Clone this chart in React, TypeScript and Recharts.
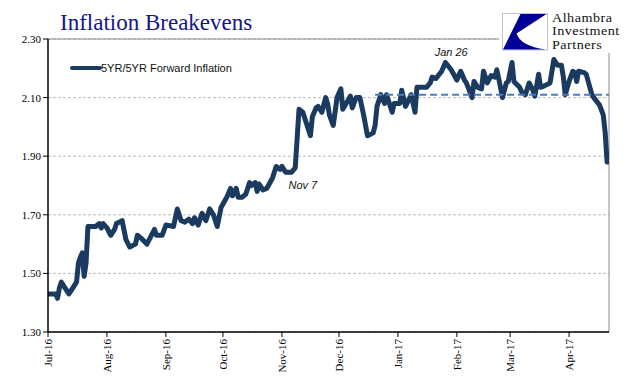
import React from 'react';
import { LineChart, Line, XAxis, YAxis, CartesianGrid, ReferenceLine, ReferenceDot } from 'recharts';

const seriesName = '5YR/5YR Forward Inflation';

const dates = [
  '2016-07-01','2016-07-05','2016-07-06','2016-07-07','2016-07-08','2016-07-10','2016-07-12','2016-07-14','2016-07-16','2016-07-17',
  '2016-07-18','2016-07-19','2016-07-20','2016-07-21','2016-07-22','2016-07-26','2016-07-28','2016-07-29','2016-07-30','2016-08-01',
  '2016-08-03','2016-08-05','2016-08-06','2016-08-09','2016-08-11','2016-08-13','2016-08-16','2016-08-17','2016-08-19','2016-08-22',
  '2016-08-26','2016-08-27','2016-08-30','2016-09-01','2016-09-05','2016-09-07','2016-09-09','2016-09-11','2016-09-13','2016-09-15',
  '2016-09-16','2016-09-18','2016-09-20','2016-09-22','2016-09-24','2016-09-26','2016-09-28','2016-09-30','2016-10-03','2016-10-05',
  '2016-10-06','2016-10-08','2016-10-09','2016-10-11','2016-10-13','2016-10-15','2016-10-16','2016-10-18','2016-10-19','2016-10-20',
  '2016-10-22','2016-10-24','2016-10-27','2016-10-28','2016-10-29','2016-10-31','2016-11-01','2016-11-03','2016-11-06','2016-11-08',
  '2016-11-09','2016-11-10','2016-11-12','2016-11-14','2016-11-16','2016-11-17','2016-11-19','2016-11-20','2016-11-22','2016-11-24',
  '2016-11-25','2016-11-26','2016-11-28','2016-11-30','2016-12-02','2016-12-03','2016-12-07','2016-12-08','2016-12-10','2016-12-12',
  '2016-12-14','2016-12-16','2016-12-19','2016-12-20','2016-12-21','2016-12-23','2016-12-25','2016-12-26','2016-12-29','2016-12-30',
  '2017-01-02','2017-01-03','2017-01-05','2017-01-08','2017-01-10','2017-01-11','2017-01-16','2017-01-18','2017-01-19','2017-01-21',
  '2017-01-24','2017-01-26','2017-01-29','2017-02-01','2017-02-03','2017-02-05','2017-02-06','2017-02-09','2017-02-10','2017-02-12',
  '2017-02-14','2017-02-15','2017-02-17','2017-02-19','2017-02-21','2017-02-22','2017-02-23','2017-02-25','2017-02-27','2017-02-28',
  '2017-03-02','2017-03-03','2017-03-06','2017-03-07','2017-03-09','2017-03-11','2017-03-13','2017-03-14','2017-03-16','2017-03-17',
  '2017-03-19','2017-03-22','2017-03-24','2017-03-26','2017-03-28','2017-03-29','2017-03-30','2017-04-01','2017-04-03','2017-04-04',
  '2017-04-05','2017-04-06','2017-04-09','2017-04-10','2017-04-13','2017-04-14','2017-04-17','2017-04-19','2017-04-20','2017-04-21',
];

const values = [
  1.43, 1.43, 1.415, 1.45, 1.47, 1.45, 1.43, 1.45, 1.47, 1.535,
  1.555, 1.57, 1.49, 1.535, 1.66, 1.66, 1.67, 1.655, 1.67, 1.655,
  1.63, 1.65, 1.67, 1.68, 1.615, 1.59, 1.60, 1.63, 1.62, 1.60,
  1.65, 1.63, 1.63, 1.665, 1.66, 1.72, 1.68, 1.675, 1.685, 1.67,
  1.69, 1.665, 1.705, 1.68, 1.72, 1.70, 1.66, 1.725, 1.76, 1.79,
  1.765, 1.79, 1.76, 1.76, 1.77, 1.81, 1.80, 1.81, 1.78, 1.805,
  1.785, 1.79, 1.825, 1.845, 1.865, 1.855, 1.865, 1.845, 1.845, 1.86,
  1.96, 2.06, 2.05, 2.01, 1.97, 2.035, 2.065, 2.07, 2.05, 2.10,
  2.08, 2.04, 2.005, 2.10, 2.13, 2.06, 2.105, 2.065, 2.10, 2.10,
  2.04, 1.97, 1.98, 2.005, 2.07, 2.11, 2.08, 2.11, 2.05, 2.08,
  2.08, 2.125, 2.07, 2.11, 2.05, 2.135, 2.135, 2.15, 2.17, 2.165,
  2.19, 2.22, 2.195, 2.16, 2.19, 2.16, 2.15, 2.10, 2.155, 2.135,
  2.13, 2.19, 2.15, 2.175, 2.17, 2.195, 2.165, 2.10, 2.15, 2.155,
  2.22, 2.155, 2.135, 2.12, 2.11, 2.15, 2.125, 2.105, 2.18, 2.135,
  2.14, 2.15, 2.23, 2.21, 2.21, 2.17, 2.11, 2.155, 2.19, 2.185,
  2.155, 2.19, 2.185, 2.18, 2.11, 2.10, 2.075, 2.04, 1.98, 1.88,
];

const tickDates = ['2016-07-01','2016-08-01','2016-09-01','2016-10-01','2016-11-01','2016-12-01','2017-01-01','2017-02-01','2017-03-01','2017-04-01'];
const tickLabels = ['Jul-16','Aug-16','Sep-16','Oct-16','Nov-16','Dec-16','Jan-17','Feb-17','Mar-17','Apr-17'];
const yTicks = [1.3, 1.5, 1.7, 1.9, 2.1, 2.3];
const axisStart = '2016-07-01';
const axisEnd = '2017-04-22';

const trendLevel = 2.11;
const trendFrom = '2016-12-20';

const annotationLabels = ['Nov 7', 'Jan 26'];
const annotationDates = ['2016-11-12', '2017-01-29'];
const annotationValues = [1.788, 2.242];

const logoLines = ['Alhambra', 'Investment', 'Partners'];

const START = Date.UTC(2016, 6, 1);
const toDay = (s: string) => {
  const [y, m, d] = s.split('-').map(Number);
  return Math.round((Date.UTC(y, m - 1, d) - START) / 86400000);
};

const data = dates.map((d, i) => ({ day: toDay(d), value: values[i] }));
const xTicks = tickDates.map(toDay);
const labelByDay: Record<number, string> = {};
xTicks.forEach((t, i) => { labelByDay[t] = tickLabels[i]; });

const SERIF = "'Liberation Serif', 'Times New Roman', serif";
const SANS = "'Liberation Sans', Arial, sans-serif";
const LINE_COLOR = '#1b3a60';

const XTick = (props: any) => {
  const { x, y, payload } = props;
  return (
    <g transform={`translate(${x},${y})`}>
      <text transform="rotate(-90)" textAnchor="end" dy={4} fontFamily={SERIF} fontSize={11} fill="#000">
        {labelByDay[payload.value]}
      </text>
    </g>
  );
};

const AnnotationText = (label: string) => (props: any) => (
  <text x={props.cx} y={props.cy} textAnchor="middle" fontFamily={SANS} fontStyle="italic" fontSize={11} fill="#111">
    {label}
  </text>
);

export default function App() {
  const endDay = toDay(axisEnd);
  return (
    <div style={{ margin: -8, width: 641, height: 381, position: 'relative', background: '#fff' }}>
      <LineChart width={641} height={381} data={data} margin={{ top: 39, right: 32, left: 0, bottom: 0 }}>
        <CartesianGrid horizontal vertical={false} stroke="#bcbcbc" strokeDasharray="3 2" />
        <ReferenceLine y={2.3} stroke="#8c8c8c" strokeWidth={1} />
        <ReferenceLine x={endDay} stroke="#8c8c8c" strokeWidth={1} />
        <XAxis
          type="number"
          dataKey="day"
          domain={[toDay(axisStart), endDay]}
          ticks={xTicks}
          interval={0}
          height={49}
          tick={<XTick />}
          tickSize={5}
          tickMargin={2}
          axisLine={{ stroke: '#000', strokeWidth: 1.5 }}
          tickLine={{ stroke: '#000', strokeWidth: 1 }}
          allowDataOverflow
        />
        <YAxis
          type="number"
          domain={[1.3, 2.3]}
          ticks={yTicks}
          interval={0}
          width={48}
          tickFormatter={(v: number) => v.toFixed(2)}
          tick={{ fontFamily: SERIF, fontSize: 11, fill: '#000' }}
          tickSize={5}
          tickMargin={2}
          axisLine={{ stroke: '#000', strokeWidth: 1.5 }}
          tickLine={{ stroke: '#000', strokeWidth: 1 }}
        />
        <Line
          type="linear"
          dataKey="value"
          name={seriesName}
          stroke={LINE_COLOR}
          strokeWidth={5}
          strokeLinejoin="round"
          strokeLinecap="round"
          dot={false}
          isAnimationActive={false}
        />
        <ReferenceLine
          segment={[{ x: toDay(trendFrom), y: trendLevel }, { x: endDay, y: trendLevel }]}
          stroke="#4a7ebb"
          strokeWidth={2}
          strokeDasharray="7 4"
        />
        {annotationLabels.map((l, i) => (
          <ReferenceDot
            key={l}
            x={toDay(annotationDates[i])}
            y={annotationValues[i]}
            r={0}
            shape={AnnotationText(l)}
          />
        ))}
      </LineChart>
      <svg width={641} height={381} style={{ position: 'absolute', left: 0, top: 0, pointerEvents: 'none' }}>
        <rect x={7} y={5} width={627} height={371} fill="none" stroke="#000" strokeWidth={2} />
        <text x={60} y={30} fontFamily={SERIF} fontSize={23} fill="#15158a">Inflation Breakevens</text>
        <line x1={72} y1={68} x2={100} y2={68} stroke={LINE_COLOR} strokeWidth={4} strokeLinecap="round" />
        <text x={101} y={72} fontFamily={SANS} fontSize={11} fill="#111">{seriesName}</text>
        <rect x={499} y={7} width={133} height={46} fill="#fff" />
        <rect x={502.5} y={13.5} width={45} height={36.5} fill="#fff" stroke="#c4c4c4" strokeWidth={1} />
        <path d="M520.5,14 L546.5,14 L516.5,33.5 Q520.5,46 545.5,49.5 L503,49.5 Z" fill="#000096" />
        <g transform="translate(552,0) scale(1.2,1)">
          {logoLines.map((t, i) => (
            <text key={t} x={0} y={22 + i * 13.3} fontFamily={SERIF} fontSize={11.8} letterSpacing={0.4} fill="#111">{t}</text>
          ))}
        </g>
      </svg>
    </div>
  );
}
